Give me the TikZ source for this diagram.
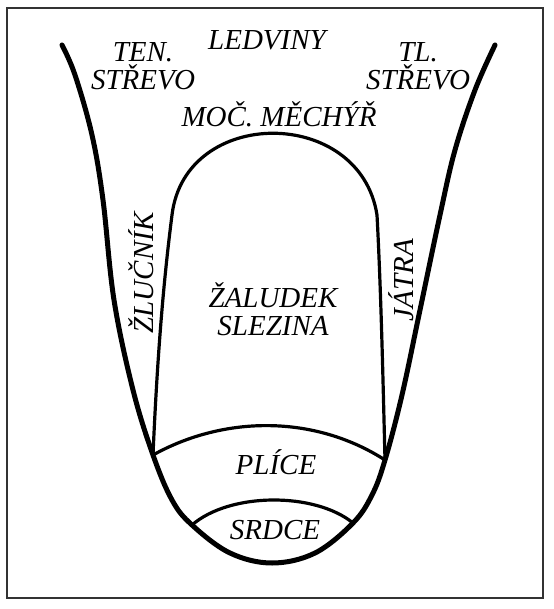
\documentclass[tikz,border=0pt]{standalone}
\usepackage{fontspec}
\setmainfont{Liberation Serif}
\usetikzlibrary{calc}

\begin{document}
\begin{tikzpicture}[x=1pt, y=-1pt,
    organ/.style={font=\fontsize{29}{28}\selectfont\itshape, align=center, inner sep=0pt},
    wall/.style={line width=5pt, line cap=round, line join=round},
    septum/.style={line width=3.2pt, line cap=round}]

    % --- 1. 枠 ---
    \useasboundingbox (0,0) rectangle (553,609);
    \draw[line width=2pt, black!80] (7,8) rectangle (543,598);

    % --- 2. 接合点 ---
    \coordinate (pl) at (153,455);
    \coordinate (pr) at (385,460);
    \coordinate (sl) at (192,525);
    \coordinate (sr) at (353,523);
    \coordinate (dl) at (172,215);
    \coordinate (dr) at (377,215);

    % --- 3. 外側のU字 ---
    \draw[wall] plot[smooth, tension=0.6] coordinates {
        (62,45) (75,75) (92,135) (103,200) (114,300) (133,390) (pl)
        (172,500) (sl) (230,553) (272,563) (315,553) (sr)
        (372,495) (pr) (402,395) (420,310) (440,215) (455,150) (475,90) (495,45)};

    % --- 4. 内側のドーム ---
    \draw[septum] (pl) .. controls (158,340) and (165,270) .. (dl)
        .. controls (185,106) and (360,106) .. (dr)
        .. controls (381,290) and (383,380) .. (pr);

    % --- 5. 肺・心臓の仕切り ---
    \draw[septum] (pl) .. controls (225,415) and (315,415) .. (pr);
    \draw[septum] (sl) .. controls (230,492) and (315,492) .. (sr);

    % --- 6. ラベル ---
    \node[organ] (ledviny) at (267,40) {LEDVINY};
    \node[organ] (tenstrevo) at (143,66) {TEN.\\STŘEVO};
    \node[organ] (tlstrevo) at (418,66) {TL.\\STŘEVO};
    \node[organ] (mocmechyr) at (279,114) {MOČ. MĚCHÝŘ};
    \node[organ, rotate=90] (zlucnik) at (141,273) {ŽLUČNÍK};
    \node[organ, rotate=90] (jatra) at (401,280) {JÁTRA};
    \node[organ] (zaludek) at (273,309) {ŽALUDEK\\SLEZINA};
    \node[organ] (plice) at (276,462) {PLÍCE};
    \node[organ] (srdce) at (275,530) {SRDCE};

\end{tikzpicture}
\end{document}
